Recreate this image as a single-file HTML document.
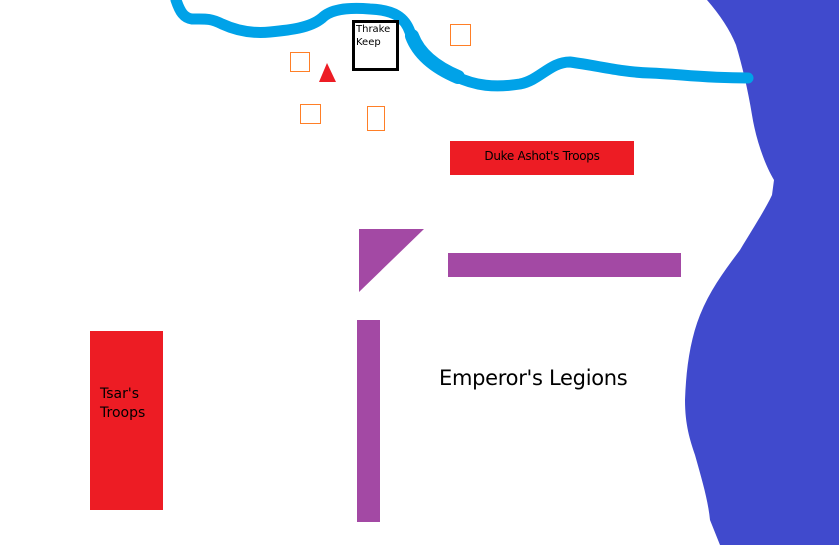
<!DOCTYPE html>
<html><head><meta charset="utf-8"><style>
html,body{margin:0;padding:0;background:#fff;width:839px;height:545px;overflow:hidden;position:relative;font-family:"DejaVu Sans","Liberation Sans",sans-serif}
.a{position:absolute}
</style></head><body>
<svg class="a" style="left:0;top:0" width="839" height="545" viewBox="0 0 839 545">
<path d="M707,0 C720,15 730,30 736,45 C742,65 748,90 752,115 C756,140 765,165 774,180 L772,195 C765,210 752,230 740,250 C725,270 710,290 700,315 C690,340 686,370 685,400 C685,425 690,440 695,455 C702,480 708,500 710,520 L720,545 L839,545 L839,0 Z" fill="#404acd"/>
<path d="M176,0 C180,12 184,18 192,19 C205,19 210,18 222,24 C235,30 250,34 270,32 C290,30 310,28 322,18 C330,10 345,7 370,9 C395,10 405,18 410,32 C415,50 430,65 455,76 C475,86 495,88 520,84 C540,80 550,62 570,62 C600,66 620,72 650,73 C680,74 700,78 748,78" fill="none" stroke="#00a2e8" stroke-width="11" stroke-linecap="round"/>
<path d="M412,36 C418,52 432,66 458,77" fill="none" stroke="#00a2e8" stroke-width="14" stroke-linecap="round"/>
<polygon points="359,229 424,229 359,292" fill="#a349a4"/>
<polygon points="319,82 336,82 327,63" fill="#ed1c24"/>
</svg>
<div class="a" style="left:352px;top:20px;width:40px;height:45px;border:3px solid #000;background:#fff;font-size:10px;line-height:13px;padding-left:1px;box-sizing:content-box">Thrake<br>Keep</div>
<div class="a" style="left:290px;top:52px;width:18px;height:18px;border:1px solid #ff7f27"></div>
<div class="a" style="left:450px;top:24px;width:19px;height:20px;border:1px solid #ff7f27"></div>
<div class="a" style="left:300px;top:104px;width:19px;height:18px;border:1px solid #ff7f27"></div>
<div class="a" style="left:367px;top:106px;width:16px;height:23px;border:1px solid #ff7f27"></div>
<div class="a" style="left:450px;top:141px;width:184px;height:34px;background:#ed1c24;font-size:12px;line-height:30px;text-align:center;color:#000;letter-spacing:-0.3px">Duke Ashot's Troops</div>
<div class="a" style="left:448px;top:253px;width:233px;height:24px;background:#a349a4"></div>
<div class="a" style="left:357px;top:320px;width:23px;height:202px;background:#a349a4"></div>
<div class="a" style="left:90px;top:331px;width:73px;height:179px;background:#ed1c24;font-size:14px;line-height:19px;color:#000"><div style="padding:54px 0 0 10px">Tsar's<br>Troops</div></div>
<div class="a" style="left:439px;top:366px;font-size:21px;color:#000;white-space:nowrap;letter-spacing:-0.3px">Emperor's Legions</div>
</body></html>
